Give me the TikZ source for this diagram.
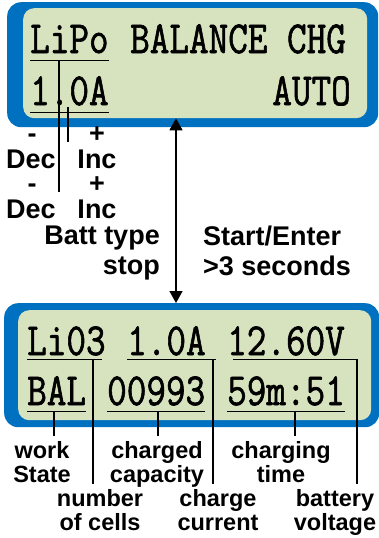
\documentclass[tikz,border=0pt]{standalone}
\usepackage{fontspec}
\setmainfont{Liberation Sans}
\newfontfamily\lcdfont[FakeBold=1.5]{Latin Modern Mono}
\usepackage{graphicx}
\usetikzlibrary{arrows.meta}
\definecolor{bezelblue}{RGB}{0,112,192}
\definecolor{lcdgreen}{RGB}{215,227,190}
\newcommand{\lcd}[1]{\scalebox{0.952}[1.147]{#1}}

\begin{document}
\begin{tikzpicture}[x=1pt, y=-1pt,
  bezel/.style={rectangle, fill=bezelblue, rounded corners=14pt, inner sep=0pt, anchor=north west},
  screen/.style={rectangle, fill=lcdgreen, rounded corners=11pt, inner sep=0pt, anchor=north west},
  lcdword/.style={inner xsep=0pt, inner ysep=#1, text depth=0pt, anchor=base west, font=\lcdfont\fontsize{40}{40}\selectfont},
  uline/.style={line width=1.3pt},
  conn/.style={line width=1.2pt},
  lbl/.style={font=\bfseries\fontsize{27}{30}\selectfont, inner sep=0pt},
  sublbl/.style={font=\bfseries\fontsize{23.5}{24}\selectfont, align=center, inner xsep=0pt, inner ysep=5pt},
  updown/.style={{Triangle[width=13pt,length=12pt]}-{Triangle[width=13pt,length=12pt]}, line width=1.6pt}]
  \useasboundingbox (0,0) rectangle (379,538);

  % displays
  \node[bezel, minimum width=371pt, minimum height=125pt] (topBezel) at (7,2) {};
  \node[screen, minimum width=344pt, minimum height=110pt] (topScreen) at (23,8) {};
  \node[bezel, minimum width=375pt, minimum height=124pt] (botBezel) at (4,303) {};
  \node[screen, minimum width=353pt, minimum height=110pt] (botScreen) at (18,310) {};

  % top screen text
  \node[lcdword=7pt] (lipo) at (30,53) {\lcd{LiPo}};
  \node[lcdword=7pt] (balance) at (130,53) {\lcd{BALANCE CHG}};
  \node[lcdword=7pt] (curTop) at (30,105) {\lcd{1.0A}};
  \node[lcdword=7pt, anchor=base east] (auto) at (351,105) {\lcd{AUTO}};
  \draw[uline] (lipo.south west) -- (lipo.south east);
  \draw[uline] (curTop.south west) -- (curTop.south east);

  % bottom screen text
  \node[lcdword=4pt] (cells) at (27,355) {\lcd{Li03}};
  \node[lcdword=4pt] (curBot) at (127,355) {\lcd{1.0A}};
  \node[lcdword=4pt] (volt) at (227,355) {\lcd{12.60V}};
  \node[lcdword=6pt] (state) at (27,405) {\lcd{BAL}};
  \node[lcdword=6pt] (capac) at (107,405) {\lcd{00993}};
  \node[lcdword=6pt] (time) at (227,405) {\lcd{59m:51}};
  \draw[uline] (cells.south west) -- ([xshift=-4pt]cells.south east);
  \draw[uline] (curBot.south west) -- ([xshift=10pt]curBot.south east);
  \draw[uline] ([xshift=6pt]volt.south west) -- ([xshift=11pt]volt.south east);
  \draw[uline] (state.south west) -- (state.south east);
  \draw[uline] (capac.south west) -- (capac.south east);
  \draw[uline] (time.south west) -- (time.south east);

  % Dec / Inc keys
  \node[lbl, anchor=base] (minus1) at (32,142) {-};
  \node[lbl, anchor=base] (plus1) at (97,142) {+};
  \node[lbl, anchor=base] (dec1) at (31,168) {Dec};
  \node[lbl, anchor=base] (inc1) at (97,168) {Inc};
  \node[lbl, anchor=base] (minus2) at (32,192) {-};
  \node[lbl, anchor=base] (plus2) at (97,192) {+};
  \node[lbl, anchor=base] (dec2) at (31,218) {Dec};
  \node[lbl, anchor=base] (inc2) at (97,218) {Inc};
  \node[lbl, align=right, anchor=east] (battStop) at (160,253.5) {Batt type\\stop};
  \node[lbl, align=left, anchor=west] (startEnter) at (203,250.5) {Start/Enter\\>3 seconds};

  \coordinate (tType) at (59,60);
  \coordinate (tCur) at (68,107);
  \draw[conn] (tType) -- (tType |- minus2.south);
  \draw[conn] (tCur) -- (tCur |- minus1.south);

  \coordinate (arrowX) at (176,0);
  \draw[updown] (topScreen.south -| arrowX) -- (botBezel.north -| arrowX);

  % field labels
  \node[sublbl] (workLbl) at (42,462) {work\\State};
  \node[sublbl] (capLbl) at (157,464.5) {charged\\capacity};
  \node[sublbl] (timeLbl) at (281,462) {charging\\time};
  \node[sublbl] (cellsLbl) at (100,510) {number\\of cells};
  \node[sublbl] (curLbl) at (218,510) {charge\\current};
  \node[sublbl] (voltLbl) at (335,512.5) {battery\\voltage};

  \coordinate (tState) at (54,411);
  \coordinate (tCap) at (158,411);
  \coordinate (tTime) at (295,411);
  \coordinate (tCells) at (93,359);
  \coordinate (tCurBot) at (213,359);
  \coordinate (tVolt) at (357,359);
  \draw[conn] (tState) -- (tState |- workLbl.north);
  \draw[conn] (tCap) -- (tCap |- capLbl.north);
  \draw[conn] (tTime) -- (tTime |- timeLbl.north);
  \draw[conn] (tCells) -- (tCells |- cellsLbl.north);
  \draw[conn] (tCurBot) -- (tCurBot |- curLbl.north);
  \draw[conn] (tVolt) -- (tVolt |- voltLbl.north);
\end{tikzpicture}
\end{document}
